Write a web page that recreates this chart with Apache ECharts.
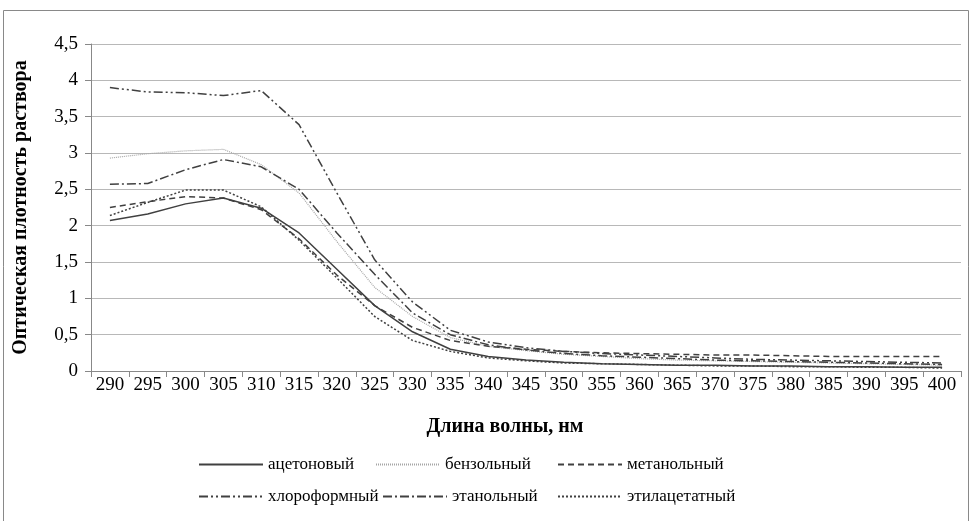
<!DOCTYPE html>
<html>
<head>
<meta charset="utf-8">
<script src="https://cdn.jsdelivr.net/npm/echarts@6/dist/echarts.min.js"></script>
<style>
html,body{margin:0;padding:0;background:#fff;}
#c{width:972px;height:521px;}
</style>
</head>
<body>
<div id="c"></div>
<script>
const categories = ['290','295','300','305','310','315','320','325','330','335','340','345','350','355','360','365','370','375','380','385','390','395','400'];
const yTicks = [0,0.5,1,1.5,2,2.5,3,3.5,4,4.5];
const names = ['ацетоновый','бензольный','метанольный','хлороформный','этанольный','этилацетатный'];
const acetone    = [2.07,2.16,2.30,2.38,2.24,1.90,1.40,0.90,0.54,0.30,0.20,0.15,0.12,0.10,0.09,0.08,0.08,0.07,0.07,0.06,0.06,0.05,0.05];
const benzene    = [2.93,2.99,3.03,3.05,2.84,2.45,1.78,1.15,0.75,0.46,0.34,0.28,0.23,0.20,0.17,0.15,0.14,0.13,0.12,0.11,0.10,0.09,0.08];
const methanol   = [2.25,2.33,2.40,2.38,2.22,1.82,1.32,0.90,0.60,0.42,0.34,0.30,0.27,0.25,0.24,0.23,0.22,0.22,0.21,0.20,0.20,0.20,0.20];
const chloroform = [3.90,3.84,3.83,3.79,3.86,3.39,2.45,1.53,0.95,0.56,0.40,0.32,0.27,0.24,0.22,0.20,0.18,0.16,0.15,0.14,0.13,0.12,0.11];
const ethanol    = [2.57,2.58,2.77,2.91,2.81,2.50,1.90,1.33,0.80,0.50,0.36,0.29,0.24,0.21,0.19,0.17,0.15,0.14,0.13,0.12,0.11,0.10,0.09];
const ethylAcetate = [2.14,2.32,2.49,2.49,2.26,1.80,1.28,0.75,0.42,0.27,0.18,0.14,0.11,0.10,0.09,0.08,0.07,0.07,0.06,0.06,0.05,0.05,0.04];

const seriesData = [acetone, benzene, methanol, chloroform, ethanol, ethylAcetate];
const styles = [
  {color:'#404040', type:'solid', width:1.5},
  {color:'#a6a6a6', type:[1,1], width:1.2},
  {color:'#404040', type:[6,4], width:1.5},
  {color:'#404040', type:[9,3,2,3,2,3], width:1.5},
  {color:'#404040', type:[9,3,2,3], width:1.5},
  {color:'#404040', type:[2,2], width:1.5}
];
const legendPos = [[198,456],[375,456],[557,456],[198,488],[382,488],[557,488]];

const font = 'Liberation Serif';
const chart = echarts.init(document.getElementById('c'), null, {renderer:'canvas'});
chart.setOption({
  animation:false,
  backgroundColor:'#fff',
  textStyle:{fontFamily:font},
  title:{text:'Длина волны, нм', left:500, top:412, textAlign:'center',
    textStyle:{fontFamily:font, fontSize:20, fontWeight:'bold', color:'#000'}},
  graphic:[{type:'rect', shape:{x:3.5,y:10.5,width:965,height:530}, style:{fill:'none', stroke:'#898989', lineWidth:1}, silent:true}],
  legend: names.map((n,i)=>({
    data:[n], left:legendPos[i][0], top:legendPos[i][1], padding:0,
    itemWidth:64, itemHeight:14, itemGap:6,
    itemStyle:{opacity:0},
    textStyle:{fontFamily:font, fontSize:17, color:'#000'}
  })),
  grid:{left:91, right:11, top:44, bottom:150},
  xAxis:{
    type:'category', data:categories, boundaryGap:true,
    axisLine:{lineStyle:{color:'#888', width:1}},
    axisTick:{show:true, alignWithLabel:false, length:6, lineStyle:{color:'#888'}},
    axisLabel:{fontFamily:font, fontSize:19, color:'#000', margin:5, interval:0},
    splitLine:{show:false}
  },
  yAxis:{
    type:'value', min:0, max:4.5, interval:0.5,
    name:'Оптическая плотность раствора', nameLocation:'middle', nameGap:60, nameRotate:90,
    nameTextStyle:{fontFamily:font, fontSize:20, fontWeight:'bold', color:'#000'},
    axisLine:{show:true, lineStyle:{color:'#888', width:1}},
    axisTick:{show:true, length:6, lineStyle:{color:'#888'}},
    axisLabel:{fontFamily:font, fontSize:19, color:'#000', margin:13,
      formatter:v=>{ const t = yTicks.find(x=>Math.abs(x-v)<1e-9); return String(t!==undefined?t:v).replace('.',','); }},
    splitLine:{show:true, lineStyle:{color:'#b8b8b8', width:1}}
  },
  series: names.map((n,i)=>({
    name:n, type:'line', data:seriesData[i], symbol:'none', smooth:false,
    lineStyle:{color:styles[i].color, type:styles[i].type, width:styles[i].width},
    itemStyle:{color:styles[i].color}
  }))
});
</script>
</body>
</html>
